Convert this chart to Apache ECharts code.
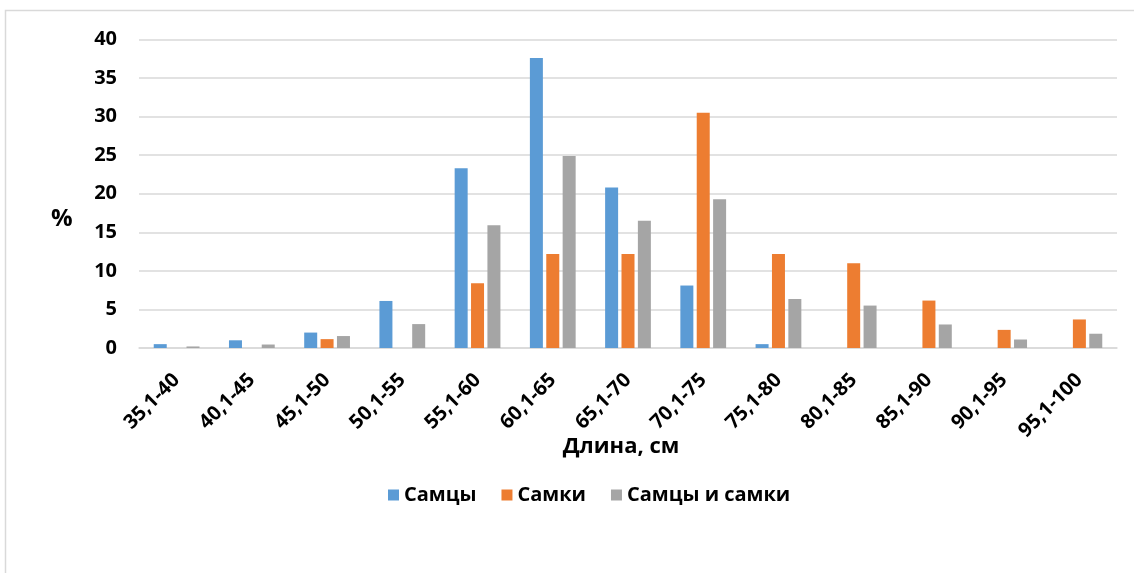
<!DOCTYPE html>
<html>
<head>
<meta charset="utf-8">
<script src="https://cdn.jsdelivr.net/npm/echarts@6/dist/echarts.min.js"></script>
<style>
  html, body { margin: 0; padding: 0; background: #fff; }
  #chart { width: 1134px; height: 573px; }
</style>
</head>
<body>
<div id="chart"></div>
<script>
// Length classes, cm
const categories = ['35,1-40', '40,1-45', '45,1-50', '50,1-55', '55,1-60', '60,1-65', '65,1-70',
  '70,1-75', '75,1-80', '80,1-85', '85,1-90', '90,1-95', '95,1-100'];

// Share of fish in each length class, %
const males   = [0.5, 1.0, 2.0, 6.1, 23.3, 37.6, 20.8, 8.1, 0.5, 0, 0, 0, 0];
const females = [0, 0, 1.15, 0, 8.4, 12.2, 12.2, 30.5, 12.2, 11.0, 6.15, 2.35, 3.7];
const both    = [0.2, 0.45, 1.55, 3.1, 15.9, 24.9, 16.5, 19.3, 6.35, 5.5, 3.05, 1.1, 1.85];

const seriesNames = ['Самцы', 'Самки', 'Самцы и самки'];
const seriesColors = ['#5B9BD5', '#ED7D31', '#A5A5A5'];
const xTitle = 'Длина, см';
const yTitle = '%';

const FONT = '"Open Sans", "Noto Sans", sans-serif';
const chart = echarts.init(document.getElementById('chart'));

const mkSeries = (name, data, color) => ({
  name: name,
  type: 'bar',
  data: data,
  barWidth: 13,
  barGap: '26%',
  itemStyle: { color: color },
  emphasis: { disabled: true }
});

chart.setOption({
  animation: false,
  backgroundColor: '#fff',
  textStyle: { fontFamily: FONT },
  graphic: [{
    // chart frame
    type: 'rect',
    shape: { x: 5.5, y: 10.5, width: 1300, height: 800 },
    style: { fill: 'none', stroke: '#d9d9d9', lineWidth: 1.5 },
    silent: true
  }, {
    type: 'text',
    left: 51,
    top: 207,
    style: { text: yTitle, fontFamily: FONT, fontSize: 24, fontWeight: 'bold', fill: '#000' },
    silent: true
  }, {
    type: 'text',
    x: 621,
    y: 447,
    style: {
      text: xTitle, fontFamily: FONT, fontSize: 22, fontWeight: 'bold', fill: '#000',
      align: 'center', verticalAlign: 'middle'
    },
    silent: true
  }],
  grid: { left: 139, right: 17, top: 39.5, bottom: 225, containLabel: false },
  legend: {
    data: seriesNames,
    top: 480,
    left: 383,
    itemWidth: 11,
    itemHeight: 11,
    itemGap: 25,
    icon: 'rect',
    textStyle: { fontFamily: FONT, fontSize: 20, fontWeight: 'bold', color: '#000' }
  },
  xAxis: {
    type: 'category',
    data: categories,
    axisLine: { lineStyle: { color: '#d9d9d9', width: 1.5 } },
    axisTick: { show: false },
    axisLabel: {
      rotate: 45,
      interval: 0,
      margin: 29,
      fontFamily: FONT,
      fontSize: 20,
      fontWeight: 'bold',
      color: '#000'
    }
  },
  yAxis: {
    type: 'value',
    min: 0,
    max: 40,
    interval: 5,
    axisLine: { show: false },
    axisTick: { show: false },
    axisLabel: {
      margin: 22,
      fontFamily: FONT,
      fontSize: 20,
      fontWeight: 'bold',
      color: '#000'
    },
    splitLine: { lineStyle: { color: '#d9d9d9', width: 1.5 } }
  },
  series: [
    mkSeries(seriesNames[0], males, seriesColors[0]),
    mkSeries(seriesNames[1], females, seriesColors[1]),
    mkSeries(seriesNames[2], both, seriesColors[2])
  ]
});
</script>
</body>
</html>
